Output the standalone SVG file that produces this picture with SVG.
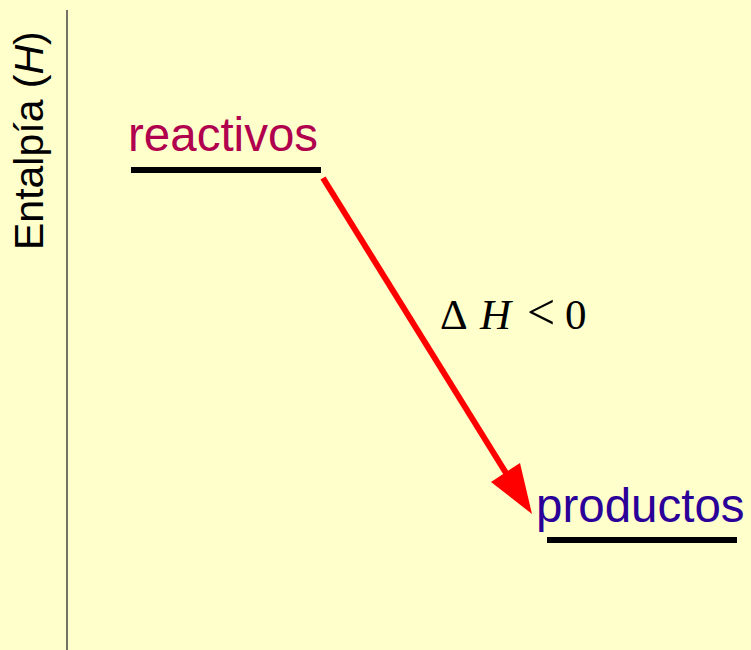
<svg xmlns="http://www.w3.org/2000/svg" width="751" height="650" viewBox="0 0 751 650">
<style>
.sans{font-family:"Liberation Sans",Arial,sans-serif;font-size:47.5px}
.lvl{stroke:#000;stroke-width:6;fill:none}
.ser{font-family:"Liberation Serif","Times New Roman",serif;font-size:43px;fill:#000}
</style>
<rect width="751" height="650" fill="#ffffcc"/>
<g id="axis">
<line x1="67" y1="10" x2="67" y2="650" stroke="#444" stroke-width="1.5"/>
<text class="sans" transform="translate(43,250) rotate(-90)" style="font-size:41px" fill="#000">Entalpía (<tspan font-style="italic">H</tspan>)</text>
</g>
<g id="reactivos">
<text class="sans" x="128" y="151" fill="#b0004e">reactivos</text>
<line class="lvl" x1="131" y1="170" x2="321" y2="170"/>
</g>
<g id="productos">
<text class="sans" x="536" y="522" fill="#2b0099">productos</text>
<line class="lvl" x1="547" y1="540" x2="737" y2="540"/>
</g>
<g id="connectors">
<line x1="323" y1="178" x2="506" y2="473" stroke="#ff0000" stroke-width="6"/>
<polygon points="532,514 491,482 520,463" fill="#ff0000"/>
<text class="ser" x="440" y="329">Δ</text>
<text class="ser" x="480" y="329" font-style="italic">H</text>
<text class="ser" x="527" y="329" style="font-size:50px">&lt;</text>
<text class="ser" x="565" y="329">0</text>
</g>
</svg>
